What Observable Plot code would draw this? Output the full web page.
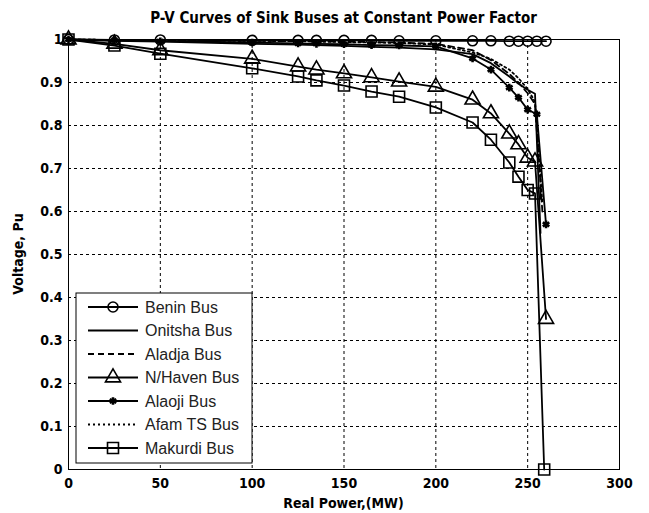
<!DOCTYPE html>
<html><head><meta charset="utf-8">
<script src="https://cdn.jsdelivr.net/npm/d3@7"></script>
<script src="https://cdn.jsdelivr.net/npm/@observablehq/plot@0.6"></script>
<style>
body{margin:0;background:#fff;}
#chart svg{display:block;}
</style></head><body><div id="chart"></div>
<script>
// ---- data ----
const pBenin   = [0,25,50,100,125,135,150,165,180,200,220,230,240,245,250,255,260];
const pOnitsha = [0,25,50,100,125,135,150,165,180,200,220,230,240,245,250,254,257];
const pAladja  = [0,25,50,100,125,135,150,165,180,200,220,230,240,245,250,254,258];
const pNHaven  = [0,25,50,100,125,135,150,165,180,200,220,230,240,245,250,254,260];
const pAlaoji  = [0,25,50,100,125,135,150,165,180,200,220,230,240,245,250,255,260];
const pAfam    = [0,25,50,100,125,135,150,165,180,200,220,230,240,245,250,254,258];
const pMakurdi = [0,25,50,100,125,135,150,165,180,200,220,230,240,245,250,254,259];

const vBenin   = [1,0.999,0.999,0.998,0.998,0.998,0.998,0.998,0.997,0.997,0.997,0.997,0.996,0.996,0.996,0.996,0.996];
const vOnitsha = [1,0.997,0.995,0.990,0.988,0.987,0.985,0.983,0.981,0.977,0.966,0.945,0.914,0.897,0.883,0.874,0.55];
const vAladja  = [1,0.999,0.998,0.997,0.996,0.996,0.995,0.994,0.993,0.990,0.975,0.952,0.920,0.900,0.875,0.850,0.60];
const vNHaven  = [1,0.990,0.975,0.955,0.937,0.930,0.921,0.912,0.902,0.890,0.860,0.828,0.781,0.756,0.725,0.716,0.35];
const vAlaoji  = [1,0.998,0.996,0.993,0.991,0.990,0.989,0.987,0.986,0.984,0.956,0.930,0.888,0.865,0.837,0.826,0.57];
const vAfam    = [1,0.999,0.998,0.997,0.996,0.995,0.994,0.993,0.992,0.988,0.970,0.955,0.930,0.910,0.885,0.855,0.62];
const vMakurdi = [1,0.986,0.967,0.933,0.914,0.905,0.893,0.879,0.867,0.842,0.807,0.767,0.714,0.681,0.650,0.642,0];

const busNames = ["Benin Bus","Onitsha Bus","Aladja Bus","N/Haven Bus","Alaoji Bus","Afam TS Bus","Makurdi Bus"];
const xTicks = [0,50,100,150,200,250,300];
const yTicks = [0,0.1,0.2,0.3,0.4,0.5,0.6,0.7,0.8,0.9,1];
const yTickLabels = ["0","0.1","0.2","0.3","0.4","0.5","0.6","0.7","0.8","0.9","1"];
const titleText = "P-V Curves of Sink Buses at Constant Power Factor";
const xLabel = "Real Power,(MW)";
const yLabel = "Voltage, Pu";

// ---- styles per series ----
const styles = [
  {dash: null,   symbol: "circle",   r: 5},
  {dash: null,   symbol: null},
  {dash: "6,4",  symbol: null},
  {dash: null,   symbol: "triangle", r: 5.6},
  {dash: null,   symbol: "asterisk", r: 3.6},
  {dash: "2,3",  symbol: null},
  {dash: null,   symbol: "square",   r: 6.2}
];
const xs = [pBenin,pOnitsha,pAladja,pNHaven,pAlaoji,pAfam,pMakurdi];
const vs = [vBenin,vOnitsha,vAladja,vNHaven,vAlaoji,vAfam,vMakurdi];
const series = busNames.map((name,i)=>({name, ...styles[i], data: xs[i].map((x,j)=>({x, v: vs[i][j]}))}));

const FONT = "'Liberation Sans Narrow','DejaVu Sans Condensed','Arial Narrow',sans-serif";
const W = 649, H = 513;
const mL = 68, mR = 30, mT = 39, mB = 44;

const marks = [
  Plot.ruleX(xTicks, {stroke: "black", strokeWidth: 1, strokeDasharray: "3,3"}),
  Plot.ruleY(yTicks, {stroke: "black", strokeWidth: 1, strokeDasharray: "3,3"}),
];
for (const s of series) {
  marks.push(Plot.line(s.data, {x: "x", y: "v", stroke: "black", strokeWidth: 1.8, strokeDasharray: s.dash || undefined}));
}
for (const s of series) {
  if (s.symbol) {
    const isStar = s.symbol === "asterisk";
    marks.push(Plot.dot(s.data, {x: "x", y: "v", symbol: s.symbol, r: s.r, stroke: "black", fill: "none", strokeWidth: isStar ? 2.6 : 1.6}));
  }
}
marks.push(Plot.frame({stroke: "black", strokeWidth: 1}));
marks.push(Plot.axisX(xTicks, {tickSize: 0, tickPadding: 9, label: null, fontWeight: "bold", fontSize: 14, fill: "black"}));
marks.push(Plot.axisY(yTicks, {tickSize: 0, tickPadding: 6, label: null, tickFormat: (d)=>yTickLabels[yTicks.indexOf(d)], fontWeight: "bold", fontSize: 14, fill: "black"}));

const chart = Plot.plot({
  width: W, height: H,
  marginLeft: mL, marginRight: mR, marginTop: mT, marginBottom: mB,
  x: {domain: [0,300]},
  y: {domain: [0,1]},
  style: {fontFamily: FONT, fontSize: "14px", background: "white", color: "black"},
  marks
});
document.getElementById("chart").appendChild(chart);

// ---- title, axis labels, legend ----
const svg = d3.select(chart);
const cx = mL + (W - mL - mR)/2;
svg.append("text").attr("x", cx).attr("y", 23).attr("text-anchor","middle")
  .style("font-family", FONT).style("font-weight","bold").style("font-size","15px").attr("fill","black").text(titleText);
svg.append("text").attr("x", cx).attr("y", 508).attr("text-anchor","middle")
  .style("font-family", FONT).style("font-weight","bold").style("font-size","14px").attr("fill","black").text(xLabel);
svg.append("text").attr("transform", `translate(23,${mT + (H-mT-mB)/2}) rotate(-90)`).attr("text-anchor","middle")
  .style("font-family", FONT).style("font-weight","bold").style("font-size","14px").attr("fill","black").text(yLabel);

const lg = svg.append("g");
const bx = 76, by = 293, bw = 176, bh = 170, rowY0 = 307, rowDy = 23.5;
lg.append("rect").attr("x",bx).attr("y",by).attr("width",bw).attr("height",bh).attr("fill","white").attr("stroke","black").attr("stroke-width",1);
const symMap = {circle: d3.symbolCircle, triangle: d3.symbolTriangle, square: d3.symbolSquare, asterisk: d3.symbolAsterisk};
series.forEach((s,i)=>{
  const y = rowY0 + i*rowDy;
  lg.append("line").attr("x1",88).attr("x2",138).attr("y1",y).attr("y2",y).attr("stroke","black").attr("stroke-width",1.8)
    .attr("stroke-dasharray", s.dash || null);
  if (s.symbol) {
    lg.append("path").attr("transform",`translate(113,${y})`)
      .attr("d", d3.symbol(symMap[s.symbol], Math.PI*s.r*s.r)())
      .attr("fill","none").attr("stroke","black").attr("stroke-width", s.symbol==="asterisk"?2.6:1.6);
  }
  lg.append("text").attr("x",145).attr("y",y).attr("dy","0.35em").attr("text-anchor","start")
    .style("text-anchor","start")
    .style("font-family","'Liberation Sans',Arial,sans-serif").style("font-size","16px").attr("fill","#222").text(s.name);
});
</script></body></html>
